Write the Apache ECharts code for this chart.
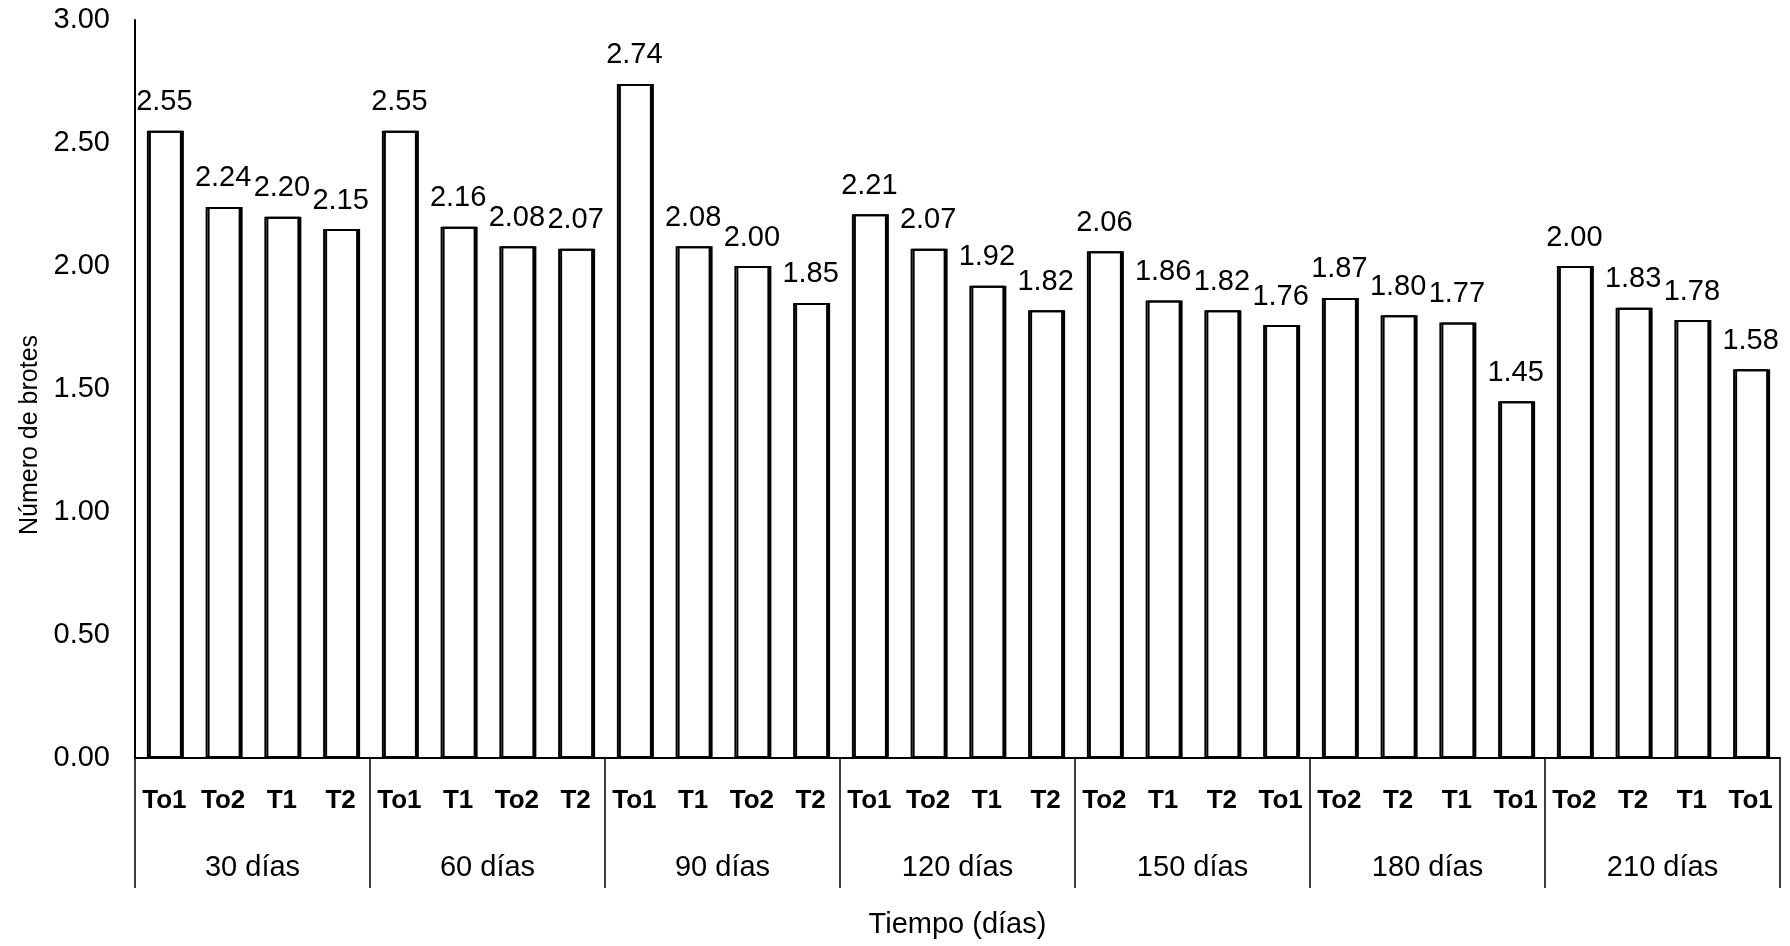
<!DOCTYPE html>
<html>
<head>
<meta charset="utf-8">
<script src="https://cdn.jsdelivr.net/npm/echarts@6/dist/echarts.min.js"></script>
<style>
  html, body { margin: 0; padding: 0; background: #fff; }
  #chart { width: 1790px; height: 946px; }
</style>
</head>
<body>
<div id="chart"></div>
<script>
// Time groups along the bottom axis
const groups = ['30 días', '60 días', '90 días', '120 días', '150 días', '180 días', '210 días'];

// Treatment order inside each time group (sorted by value)
const treat30  = ['To1', 'To2', 'T1', 'T2'];
const treat60  = ['To1', 'T1', 'To2', 'T2'];
const treat90  = ['To1', 'T1', 'To2', 'T2'];
const treat120 = ['To1', 'To2', 'T1', 'T2'];
const treat150 = ['To2', 'T1', 'T2', 'To1'];
const treat180 = ['To2', 'T2', 'T1', 'To1'];
const treat210 = ['To2', 'T2', 'T1', 'To1'];

// Número de brotes per treatment, same order as above
const val30  = [2.55, 2.24, 2.20, 2.15];
const val60  = [2.55, 2.16, 2.08, 2.07];
const val90  = [2.74, 2.08, 2.00, 1.85];
const val120 = [2.21, 2.07, 1.92, 1.82];
const val150 = [2.06, 1.86, 1.82, 1.76];
const val180 = [1.87, 1.80, 1.77, 1.45];
const val210 = [2.00, 1.83, 1.78, 1.58];

const yTicks = ['0.00', '0.50', '1.00', '1.50', '2.00', '2.50', '3.00'];

const treatments = [treat30, treat60, treat90, treat120, treat150, treat180, treat210];
const values = [val30, val60, val90, val120, val150, val180, val210];

const categories = treatments.flat();
const barData = values.flat();

const FONT = '"Liberation Sans", Arial, sans-serif';

const chart = echarts.init(document.getElementById('chart'), null, { renderer: 'canvas' });

chart.setOption({
  animation: false,
  backgroundColor: '#ffffff',
  grid: { left: 135, right: 10, top: 20, bottom: 188, containLabel: false },
  xAxis: [
    {
      type: 'category',
      data: categories,
      position: 'bottom',
      axisLine: { show: true, lineStyle: { color: '#000', width: 2 } },
      axisTick: { show: false },
      axisLabel: {
        interval: 0,
        margin: 30,
        color: '#000',
        fontFamily: FONT,
        fontWeight: 'bold',
        fontSize: 26
      },
      name: 'Tiempo (días)',
      nameLocation: 'middle',
      nameGap: 152,
      nameTextStyle: { color: '#000', fontFamily: FONT, fontSize: 29 }
    },
    {
      type: 'category',
      data: groups,
      position: 'bottom',
      offset: 0,
      axisLine: { show: false },
      axisTick: {
        show: true,
        inside: false,
        length: 130,
        lineStyle: { color: '#000', width: 1.5 }
      },
      axisLabel: {
        interval: 0,
        margin: 95,
        color: '#000',
        fontFamily: FONT,
        fontSize: 29
      },
      splitLine: { show: false }
    }
  ],
  yAxis: {
    type: 'value',
    min: 0,
    max: 3,
    interval: 0.5,
    axisLine: { show: true, lineStyle: { color: '#000', width: 2 } },
    axisTick: { show: false },
    splitLine: { show: false },
    axisLabel: {
      margin: 25,
      color: '#000',
      fontFamily: FONT,
      fontSize: 29,
      formatter: (v) => yTicks[Math.round(v / 0.5)]
    },
    name: 'Número de brotes',
    nameLocation: 'middle',
    nameRotate: 90,
    nameGap: 88,
    nameTextStyle: {
      color: '#000',
      fontFamily: FONT,
      fontSize: 25,
      padding: [0, 92, 0, 0]
    }
  },
  series: [
    {
      type: 'bar',
      xAxisIndex: 0,
      data: barData,
      barWidth: 35,
      itemStyle: {
        color: '#ffffff',
        borderColor: '#000',
        borderWidth: 2,
        shadowColor: '#000',
        shadowOffsetX: 2,
        shadowOffsetY: 0,
        shadowBlur: 0
      },
      label: {
        show: true,
        position: 'top',
        distance: 14,
        color: '#000',
        fontFamily: FONT,
        fontSize: 29,
        formatter: (p) => p.value.toFixed(2)
      }
    }
  ]
});
</script>
</body>
</html>
